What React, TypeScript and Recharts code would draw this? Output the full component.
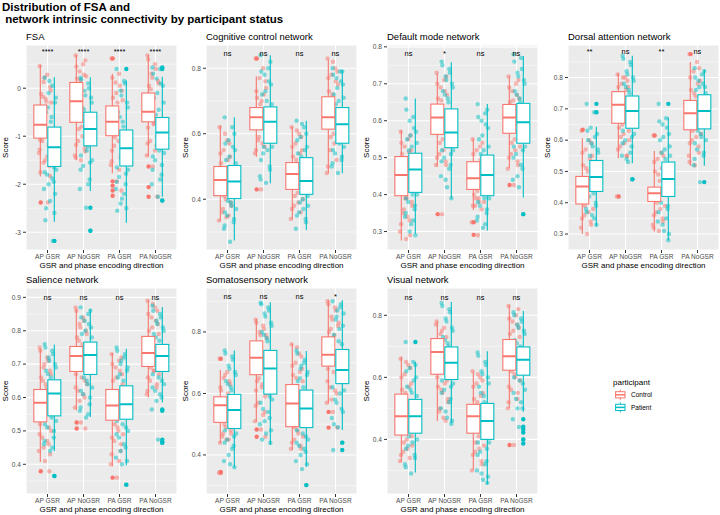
import { ComposedChart, Bar, Scatter, XAxis, YAxis, CartesianGrid } from "recharts";

const CATS = ["AP GSR", "AP NoGSR", "PA GSR", "PA NoGSR"];
const CONTROL_COLOR = "#F8766D";
const PATIENT_COLOR = "#00BFC4";
const FONT = "'Liberation Sans', Arial, Helvetica, sans-serif";

// box stats per category: [lower whisker, Q1, median, Q3, upper whisker]
const FSA_CTL = [[-1.84, -1.04, -0.76, -0.35, 0.49], [-1.5, -0.71, -0.27, 0.12, 0.69], [-1.77, -0.99, -0.7, -0.37, 0.3], [-1.42, -0.7, -0.49, -0.1, 0.69]];
const FSA_PAT = [[-2.78, -1.63, -1.23, -0.81, 0.23], [-2.14, -1.2, -0.85, -0.5, 0.23], [-2.8, -1.62, -1.25, -0.87, 0.16], [-2.26, -1.27, -0.92, -0.61, 0.24]];
const FSA_CTL_OUT = [[-2.38], [], [0.62, -1.94, -2.03, -2.13, -2.24], [-1.63, -2.06, -2.26]];
const FSA_PAT_OUT = [[-3.18], [-2.49, -2.97], [0.4], [0.4, 0.43, -2.34]];
const FSA_CTL_PTS = [
  [0.46, 0.28, 0.13, 0.02, -0.12, -0.22, -0.3, -1.1, -1.2, -1.35, -1.5, -1.62, -1.75, -2.38, 0.22, -0.05, -0.18, -0.28, -1.08, -1.15, -1.28, -1.42, -1.55, -1.83],
  [0.68, 0.5, 0.35, 0.25, 0.2, -0.8, -0.95, -1.1, -1.25, -1.4, -1.5, 0.58, 0.45, 0.28, 0.16, -0.75, -0.85, -1.0, -1.18, -1.32, -1.45],
  [0.62, 0.3, 0.12, -0.05, -0.2, -0.3, -1.05, -1.2, -1.45, -1.6, -1.94, -2.13, 0.22, 0.05, -0.1, -0.25, -1.02, -1.1, -1.3, -1.38, -1.52, -1.7],
  [0.68, 0.5, 0.3, 0.15, 0.05, -0.75, -0.9, -1.1, -1.2, -1.4, -1.63, -2.26, 0.6, 0.4, 0.22, 0.1, -0.02, -0.72, -0.82, -1.0, -1.15, -1.3],
];
const FSA_PAT_PTS = [
  [0.22, 0.05, -0.1, -0.3, -0.5, -0.7, -1.7, -1.8, -1.95, -2.1, -2.35, -2.6, -2.75, -3.18, 0.15, -0.2, -0.4, -0.6, -0.78, -1.65, -1.75, -1.88, -2.0, -2.2, -2.5],
  [0.22, 0.1, -0.05, -0.2, -0.4, -1.3, -1.5, -1.62, -1.9, -2.1, -2.49, -2.97, 0.18, 0.0, -0.15, -0.3, -0.45, -1.22, -1.4, -1.55, -1.7, -2.0],
  [0.4, 0.15, -0.05, -0.3, -0.5, -0.7, -1.7, -1.85, -2.0, -2.1, -2.3, -2.5, -2.55, 0.1, -0.15, -0.4, -0.6, -0.8, -1.65, -1.78, -1.95, -2.2, -2.4],
  [0.43, 0.4, 0.2, 0.05, -0.2, -0.45, -1.35, -1.5, -1.8, -2.0, -2.26, -2.34, 0.3, 0.1, -0.1, -0.3, -0.55, -1.3, -1.42, -1.6, -1.7, -1.9],
];
const FSA_SIG = ["****", "****", "****", "****"];

const COG_CTL = [[0.334, 0.411, 0.459, 0.5, 0.625], [0.53, 0.612, 0.65, 0.68, 0.775], [0.339, 0.43, 0.477, 0.512, 0.622], [0.479, 0.614, 0.65, 0.713, 0.827]];
const COG_PAT = [[0.274, 0.402, 0.454, 0.503, 0.65], [0.449, 0.571, 0.637, 0.682, 0.84], [0.306, 0.415, 0.456, 0.527, 0.64], [0.479, 0.571, 0.629, 0.68, 0.795]];
const COG_CTL_OUT = [[], [0.83, 0.43], [], []];
const COG_PAT_OUT = [[], [], [], []];
const COG_CTL_PTS = [
  [0.62, 0.58, 0.55, 0.53, 0.51, 0.4, 0.38, 0.36, 0.35, 0.335, 0.6, 0.57, 0.54, 0.52, 0.41, 0.39, 0.37, 0.345],
  [0.83, 0.8, 0.77, 0.74, 0.71, 0.7, 0.6, 0.58, 0.56, 0.54, 0.43, 0.76, 0.73, 0.72, 0.69, 0.6, 0.59, 0.57, 0.55],
  [0.62, 0.6, 0.57, 0.55, 0.53, 0.42, 0.4, 0.38, 0.36, 0.34, 0.61, 0.59, 0.56, 0.54, 0.52, 0.42, 0.41, 0.39, 0.37],
  [0.83, 0.8, 0.78, 0.75, 0.73, 0.6, 0.58, 0.55, 0.52, 0.48, 0.82, 0.79, 0.77, 0.76, 0.72, 0.61, 0.59, 0.57, 0.5],
];
const COG_PAT_PTS = [
  [0.65, 0.62, 0.58, 0.55, 0.52, 0.39, 0.37, 0.35, 0.33, 0.31, 0.27, 0.6, 0.57, 0.56, 0.53, 0.51, 0.395, 0.38, 0.36, 0.34, 0.32],
  [0.84, 0.8, 0.78, 0.75, 0.72, 0.7, 0.56, 0.54, 0.5, 0.47, 0.45, 0.82, 0.79, 0.76, 0.73, 0.69, 0.56, 0.55, 0.52, 0.49, 0.46],
  [0.64, 0.62, 0.59, 0.56, 0.54, 0.4, 0.38, 0.36, 0.34, 0.31, 0.63, 0.6, 0.58, 0.55, 0.53, 0.41, 0.39, 0.37, 0.35, 0.33],
  [0.8, 0.79, 0.77, 0.75, 0.72, 0.7, 0.56, 0.54, 0.52, 0.5, 0.48, 0.79, 0.78, 0.76, 0.74, 0.71, 0.69, 0.57, 0.55, 0.53, 0.51],
];
const COG_SIG = ["ns", "ns", "ns", "ns"];

const DMN_CTL = [[0.276, 0.397, 0.453, 0.503, 0.575], [0.476, 0.563, 0.609, 0.645, 0.728], [0.358, 0.414, 0.444, 0.489, 0.552], [0.471, 0.566, 0.609, 0.644, 0.72]];
const DMN_PAT = [[0.294, 0.406, 0.468, 0.512, 0.66], [0.39, 0.527, 0.568, 0.632, 0.758], [0.303, 0.397, 0.453, 0.507, 0.645], [0.392, 0.539, 0.596, 0.647, 0.775]];
const DMN_CTL_OUT = [[], [0.347], [0.325, 0.291], [0.426]];
const DMN_PAT_OUT = [[], [], [], [0.347]];
const DMN_CTL_PTS = [
  [0.57, 0.55, 0.53, 0.52, 0.51, 0.39, 0.37, 0.35, 0.33, 0.3, 0.28, 0.56, 0.54, 0.515, 0.39, 0.38, 0.36, 0.34, 0.32, 0.29],
  [0.73, 0.71, 0.69, 0.67, 0.66, 0.55, 0.53, 0.51, 0.49, 0.48, 0.347, 0.72, 0.7, 0.68, 0.655, 0.56, 0.54, 0.52, 0.5, 0.48],
  [0.55, 0.53, 0.52, 0.5, 0.4, 0.39, 0.38, 0.37, 0.36, 0.325, 0.29, 0.54, 0.51, 0.495, 0.41, 0.405, 0.39, 0.38, 0.37],
  [0.72, 0.7, 0.68, 0.66, 0.65, 0.55, 0.53, 0.51, 0.49, 0.47, 0.426, 0.71, 0.69, 0.67, 0.655, 0.56, 0.54, 0.52, 0.5, 0.48],
];
const DMN_PAT_PTS = [
  [0.66, 0.61, 0.6, 0.57, 0.55, 0.53, 0.4, 0.38, 0.36, 0.34, 0.32, 0.29, 0.63, 0.58, 0.56, 0.54, 0.52, 0.4, 0.39, 0.37, 0.35, 0.33, 0.3],
  [0.76, 0.74, 0.72, 0.7, 0.68, 0.66, 0.52, 0.5, 0.48, 0.45, 0.42, 0.39, 0.75, 0.73, 0.71, 0.69, 0.67, 0.65, 0.52, 0.51, 0.49, 0.47, 0.44],
  [0.645, 0.62, 0.6, 0.58, 0.55, 0.52, 0.39, 0.37, 0.35, 0.33, 0.31, 0.63, 0.61, 0.59, 0.56, 0.53, 0.51, 0.39, 0.38, 0.36, 0.34, 0.32],
  [0.78, 0.77, 0.73, 0.71, 0.68, 0.66, 0.53, 0.51, 0.47, 0.44, 0.42, 0.347, 0.76, 0.74, 0.72, 0.7, 0.67, 0.65, 0.53, 0.52, 0.5, 0.48, 0.45],
];
const DMN_SIG = ["ns", "*", "ns", "ns"];

const DAN_CTL = [[0.3, 0.396, 0.452, 0.484, 0.606], [0.542, 0.654, 0.713, 0.755, 0.814], [0.308, 0.404, 0.43, 0.45, 0.565], [0.518, 0.633, 0.686, 0.727, 0.85]];
const DAN_PAT = [[0.324, 0.436, 0.482, 0.535, 0.643], [0.526, 0.638, 0.693, 0.741, 0.87], [0.281, 0.42, 0.476, 0.53, 0.673], [0.518, 0.636, 0.693, 0.745, 0.826]];
const DAN_CTL_OUT = [[0.633], [0.42], [0.615], [0.875]];
const DAN_PAT_OUT = [[0.716, 0.689], [0.475], [0.716], [0.466]];
const DAN_CTL_PTS = [
  [0.63, 0.6, 0.57, 0.55, 0.52, 0.5, 0.38, 0.36, 0.34, 0.32, 0.3, 0.59, 0.56, 0.54, 0.51, 0.49, 0.39, 0.37, 0.35, 0.33],
  [0.81, 0.8, 0.78, 0.77, 0.64, 0.62, 0.6, 0.58, 0.55, 0.42, 0.8, 0.79, 0.77, 0.76, 0.65, 0.63, 0.61, 0.59, 0.57, 0.55],
  [0.615, 0.56, 0.54, 0.52, 0.5, 0.47, 0.39, 0.37, 0.35, 0.33, 0.31, 0.55, 0.53, 0.51, 0.49, 0.46, 0.4, 0.38, 0.36, 0.34, 0.32],
  [0.875, 0.85, 0.82, 0.79, 0.76, 0.74, 0.62, 0.6, 0.58, 0.55, 0.52, 0.83, 0.8, 0.78, 0.75, 0.73, 0.63, 0.61, 0.59, 0.56, 0.53],
];
const DAN_PAT_PTS = [
  [0.716, 0.689, 0.64, 0.62, 0.6, 0.58, 0.56, 0.42, 0.4, 0.38, 0.36, 0.33, 0.63, 0.61, 0.59, 0.57, 0.55, 0.43, 0.41, 0.39, 0.37, 0.35],
  [0.87, 0.85, 0.82, 0.8, 0.78, 0.76, 0.62, 0.6, 0.58, 0.55, 0.53, 0.475, 0.86, 0.84, 0.81, 0.79, 0.77, 0.75, 0.63, 0.61, 0.59, 0.56, 0.54],
  [0.716, 0.67, 0.65, 0.62, 0.6, 0.57, 0.55, 0.4, 0.38, 0.34, 0.31, 0.28, 0.66, 0.64, 0.61, 0.58, 0.56, 0.54, 0.41, 0.39, 0.37, 0.35, 0.33, 0.3],
  [0.83, 0.81, 0.79, 0.77, 0.76, 0.62, 0.6, 0.57, 0.55, 0.52, 0.466, 0.82, 0.8, 0.78, 0.77, 0.75, 0.63, 0.61, 0.59, 0.56, 0.54],
];
const DAN_SIG = ["**", "ns", "**", "ns"];

const SAL_CTL = [[0.407, 0.527, 0.584, 0.624, 0.746], [0.562, 0.678, 0.724, 0.753, 0.866], [0.394, 0.532, 0.576, 0.624, 0.733], [0.6, 0.693, 0.733, 0.783, 0.891]];
const SAL_PAT = [[0.44, 0.545, 0.612, 0.653, 0.759], [0.542, 0.669, 0.727, 0.766, 0.866], [0.397, 0.535, 0.58, 0.635, 0.746], [0.585, 0.678, 0.724, 0.759, 0.871]];
const SAL_CTL_OUT = [[0.379], [0.525, 0.507], [0.36], []];
const SAL_PAT_OUT = [[0.365], [], [0.339], [0.564, 0.56, 0.474, 0.467, 0.464]];
const SAL_CTL_PTS = [
  [0.75, 0.72, 0.69, 0.68, 0.66, 0.64, 0.5, 0.48, 0.46, 0.44, 0.41, 0.379, 0.74, 0.71, 0.7, 0.67, 0.65, 0.63, 0.52, 0.51, 0.49, 0.47, 0.45, 0.43],
  [0.87, 0.84, 0.82, 0.8, 0.78, 0.66, 0.64, 0.62, 0.6, 0.57, 0.525, 0.507, 0.86, 0.83, 0.81, 0.79, 0.77, 0.76, 0.67, 0.65, 0.63, 0.61, 0.59],
  [0.73, 0.71, 0.69, 0.67, 0.65, 0.51, 0.49, 0.47, 0.44, 0.4, 0.36, 0.72, 0.7, 0.68, 0.66, 0.64, 0.52, 0.5, 0.48, 0.46, 0.43, 0.41],
  [0.89, 0.87, 0.84, 0.82, 0.8, 0.68, 0.67, 0.65, 0.63, 0.61, 0.88, 0.86, 0.85, 0.83, 0.81, 0.79, 0.69, 0.68, 0.66, 0.64, 0.62],
];
const SAL_PAT_PTS = [
  [0.76, 0.74, 0.72, 0.7, 0.68, 0.66, 0.53, 0.51, 0.48, 0.46, 0.44, 0.365, 0.75, 0.73, 0.71, 0.69, 0.67, 0.54, 0.52, 0.5, 0.47, 0.45],
  [0.87, 0.85, 0.83, 0.81, 0.79, 0.65, 0.63, 0.61, 0.58, 0.56, 0.54, 0.86, 0.84, 0.82, 0.8, 0.78, 0.66, 0.64, 0.62, 0.6, 0.57, 0.55],
  [0.75, 0.72, 0.7, 0.68, 0.66, 0.52, 0.5, 0.48, 0.45, 0.42, 0.4, 0.339, 0.74, 0.73, 0.71, 0.69, 0.67, 0.65, 0.53, 0.51, 0.49, 0.46, 0.44, 0.41],
  [0.875, 0.85, 0.83, 0.81, 0.79, 0.66, 0.64, 0.62, 0.6, 0.564, 0.474, 0.467, 0.86, 0.84, 0.82, 0.8, 0.78, 0.77, 0.67, 0.65, 0.63, 0.61, 0.59],
];
const SAL_SIG = ["ns", "ns", "ns", "ns"];

const SMN_CTL = [[0.44, 0.506, 0.562, 0.589, 0.676], [0.508, 0.661, 0.716, 0.771, 0.843], [0.416, 0.492, 0.567, 0.629, 0.762], [0.567, 0.689, 0.726, 0.784, 0.905]];
const SMN_PAT = [[0.36, 0.486, 0.546, 0.597, 0.74], [0.432, 0.598, 0.681, 0.74, 0.897], [0.362, 0.489, 0.551, 0.611, 0.738], [0.481, 0.632, 0.676, 0.743, 0.903]];
const SMN_CTL_OUT = [[0.713, 0.342, 0.345], [0.483, 0.459], [], [0.54, 0.489]];
const SMN_PAT_OUT = [[], [], [0.302], [0.44, 0.416]];
const SMN_CTL_PTS = [
  [0.713, 0.67, 0.65, 0.63, 0.61, 0.49, 0.47, 0.46, 0.45, 0.342, 0.66, 0.64, 0.62, 0.6, 0.5, 0.48, 0.47, 0.45, 0.44],
  [0.84, 0.82, 0.8, 0.79, 0.64, 0.62, 0.6, 0.57, 0.54, 0.51, 0.483, 0.459, 0.83, 0.81, 0.79, 0.78, 0.65, 0.63, 0.61, 0.59, 0.56, 0.53],
  [0.76, 0.73, 0.7, 0.68, 0.66, 0.48, 0.46, 0.45, 0.43, 0.42, 0.75, 0.72, 0.69, 0.67, 0.65, 0.64, 0.49, 0.47, 0.44, 0.42],
  [0.9, 0.88, 0.85, 0.82, 0.8, 0.67, 0.65, 0.62, 0.6, 0.57, 0.54, 0.489, 0.89, 0.87, 0.84, 0.83, 0.81, 0.79, 0.68, 0.66, 0.64, 0.61, 0.58],
];
const SMN_PAT_PTS = [
  [0.74, 0.72, 0.69, 0.67, 0.64, 0.62, 0.47, 0.45, 0.43, 0.38, 0.37, 0.36, 0.73, 0.71, 0.68, 0.66, 0.63, 0.61, 0.48, 0.46, 0.44, 0.42, 0.4],
  [0.895, 0.88, 0.86, 0.83, 0.8, 0.78, 0.58, 0.55, 0.52, 0.5, 0.47, 0.44, 0.89, 0.87, 0.85, 0.82, 0.79, 0.77, 0.75, 0.59, 0.57, 0.54, 0.51, 0.48, 0.45],
  [0.74, 0.7, 0.68, 0.66, 0.64, 0.47, 0.45, 0.43, 0.41, 0.38, 0.354, 0.302, 0.73, 0.71, 0.69, 0.67, 0.65, 0.62, 0.48, 0.46, 0.44, 0.42, 0.4, 0.37],
  [0.9, 0.88, 0.85, 0.82, 0.79, 0.77, 0.61, 0.58, 0.55, 0.52, 0.49, 0.44, 0.416, 0.89, 0.87, 0.86, 0.84, 0.81, 0.78, 0.76, 0.62, 0.6, 0.57, 0.54, 0.5],
];
const SMN_SIG = ["ns", "ns", "ns", "*"];

const VIS_CTL = [[0.328, 0.414, 0.475, 0.546, 0.666], [0.459, 0.61, 0.682, 0.725, 0.78], [0.302, 0.42, 0.475, 0.513, 0.618], [0.5, 0.623, 0.668, 0.722, 0.832]];
const VIS_PAT = [[0.293, 0.42, 0.475, 0.529, 0.65], [0.452, 0.593, 0.647, 0.698, 0.843], [0.255, 0.4, 0.459, 0.516, 0.684], [0.489, 0.607, 0.657, 0.698, 0.814]];
const VIS_CTL_OUT = [[], [], [], [0.382]];
const VIS_PAT_OUT = [[0.714], [], [], [0.465, 0.441, 0.432, 0.422, 0.4, 0.387]];
const VIS_CTL_PTS = [
  [0.66, 0.64, 0.61, 0.58, 0.56, 0.4, 0.38, 0.36, 0.34, 0.33, 0.65, 0.63, 0.6, 0.57, 0.55, 0.41, 0.39, 0.37, 0.35],
  [0.78, 0.76, 0.74, 0.59, 0.57, 0.55, 0.52, 0.49, 0.46, 0.77, 0.75, 0.73, 0.6, 0.58, 0.56, 0.53, 0.5, 0.47],
  [0.62, 0.6, 0.58, 0.55, 0.53, 0.41, 0.38, 0.36, 0.33, 0.3, 0.61, 0.59, 0.57, 0.54, 0.52, 0.41, 0.39, 0.37, 0.35, 0.32],
  [0.83, 0.8, 0.78, 0.76, 0.74, 0.61, 0.59, 0.56, 0.53, 0.5, 0.382, 0.82, 0.79, 0.77, 0.75, 0.73, 0.62, 0.6, 0.57, 0.55, 0.52],
];
const VIS_PAT_PTS = [
  [0.714, 0.65, 0.63, 0.6, 0.57, 0.55, 0.4, 0.38, 0.35, 0.32, 0.29, 0.64, 0.62, 0.59, 0.56, 0.54, 0.41, 0.39, 0.37, 0.34, 0.31],
  [0.84, 0.82, 0.79, 0.76, 0.73, 0.71, 0.58, 0.56, 0.53, 0.5, 0.47, 0.45, 0.83, 0.81, 0.78, 0.75, 0.72, 0.7, 0.59, 0.57, 0.55, 0.52, 0.49, 0.46],
  [0.68, 0.65, 0.62, 0.6, 0.57, 0.54, 0.39, 0.36, 0.33, 0.3, 0.27, 0.26, 0.67, 0.64, 0.61, 0.58, 0.55, 0.52, 0.39, 0.37, 0.35, 0.32, 0.29, 0.28],
  [0.81, 0.79, 0.77, 0.75, 0.72, 0.59, 0.56, 0.53, 0.5, 0.465, 0.44, 0.4, 0.8, 0.78, 0.76, 0.74, 0.71, 0.7, 0.6, 0.58, 0.55, 0.52, 0.5],
];
const VIS_SIG = ["ns", "ns", "ns", "ns"];

// horizontal jitter pattern (category units), like geom_jitter
const JIT = [-0.15, 0.06, -0.04, 0.14, -0.11, 0.02, 0.17, -0.08, 0.1, -0.17, 0.0, 0.12, -0.13, 0.08, -0.02, 0.16, -0.06, 0.04, -0.14, 0.11];

const PANELS = [
  { title: "FSA", ctl: FSA_CTL, pat: FSA_PAT, ctlOut: FSA_CTL_OUT, patOut: FSA_PAT_OUT, ctlPts: FSA_CTL_PTS, patPts: FSA_PAT_PTS, sig: FSA_SIG, sigY: 0.76,
    domain: [-3.37, 0.9], ticks: [-3, -2, -1, 0], minor: [-2.5, -1.5, -0.5, 0.5], dec: 0, left: 26, top: 45, h: 205 },
  { title: "Cognitive control network", ctl: COG_CTL, pat: COG_PAT, ctlOut: COG_CTL_OUT, patOut: COG_PAT_OUT, ctlPts: COG_CTL_PTS, patPts: COG_PAT_PTS, sig: COG_SIG, sigY: 0.846,
    domain: [0.245, 0.871], ticks: [0.4, 0.6, 0.8], minor: [0.3, 0.5, 0.7], dec: 1, left: 206, top: 45, h: 205 },
  { title: "Default mode network", ctl: DMN_CTL, pat: DMN_PAT, ctlOut: DMN_CTL_OUT, patOut: DMN_PAT_OUT, ctlPts: DMN_CTL_PTS, patPts: DMN_PAT_PTS, sig: DMN_SIG, sigY: 0.782,
    domain: [0.25, 0.805], ticks: [0.3, 0.4, 0.5, 0.6, 0.7, 0.8], minor: [0.35, 0.45, 0.55, 0.65, 0.75], dec: 1, left: 387, top: 45, h: 205 },
  { title: "Dorsal attention network", ctl: DAN_CTL, pat: DAN_PAT, ctlOut: DAN_CTL_OUT, patOut: DAN_PAT_OUT, ctlPts: DAN_CTL_PTS, patPts: DAN_PAT_PTS, sig: DAN_SIG, sigY: 0.883,
    domain: [0.249, 0.904], ticks: [0.3, 0.4, 0.5, 0.6, 0.7, 0.8], minor: [0.35, 0.45, 0.55, 0.65, 0.75, 0.85], dec: 1, left: 568, top: 45, h: 205 },
  { title: "Salience network", ctl: SAL_CTL, pat: SAL_PAT, ctlOut: SAL_CTL_OUT, patOut: SAL_PAT_OUT, ctlPts: SAL_CTL_PTS, patPts: SAL_PAT_PTS, sig: SAL_SIG, sigY: 0.9,
    domain: [0.311, 0.928], ticks: [0.4, 0.5, 0.6, 0.7, 0.8, 0.9], minor: [0.35, 0.45, 0.55, 0.65, 0.75, 0.85], dec: 1, left: 26, top: 288, h: 206 },
  { title: "Somatosensory network", ctl: SMN_CTL, pat: SMN_PAT, ctlOut: SMN_CTL_OUT, patOut: SMN_PAT_OUT, ctlPts: SMN_CTL_PTS, patPts: SMN_PAT_PTS, sig: SMN_SIG, sigY: 0.916,
    domain: [0.273, 0.943], ticks: [0.4, 0.6, 0.8], minor: [0.3, 0.5, 0.7, 0.9], dec: 1, left: 206, top: 288, h: 206 },
  { title: "Visual network", ctl: VIS_CTL, pat: VIS_PAT, ctlOut: VIS_CTL_OUT, patOut: VIS_PAT_OUT, ctlPts: VIS_CTL_PTS, patPts: VIS_PAT_PTS, sig: VIS_SIG, sigY: 0.857,
    domain: [0.224, 0.888], ticks: [0.4, 0.6, 0.8], minor: [0.3, 0.5, 0.7], dec: 1, left: 387, top: 288, h: 206 },
];

const PLOT_W = 151;
const YAXIS_W = 26;

// box + whiskers; whisker ends are placed on the same linear scale as the Q1..Q3 bar
const makeBoxShape = (key: string, color: string) => (props: any) => {
  const { x, y, width, height, payload } = props;
  const s = payload[key];
  const top = Math.min(y, y + height);
  const bot = Math.max(y, y + height);
  const px = (v: number) => bot - ((v - s[1]) / (s[3] - s[1])) * (bot - top);
  const cx = x + width / 2;
  return (
    <g>
      <line x1={cx} x2={cx} y1={px(s[4])} y2={top} stroke={color} strokeWidth={1.1} />
      <line x1={cx} x2={cx} y1={bot} y2={px(s[0])} stroke={color} strokeWidth={1.1} />
      <rect x={x} y={top} width={width} height={bot - top} fill="#fff" stroke={color} strokeWidth={1.1} />
      <line x1={x} x2={x + width} y1={px(s[2])} y2={px(s[2])} stroke={color} strokeWidth={2} />
    </g>
  );
};

const dot = (color: string, opacity: number) => (p: any) => (
  <circle cx={p.cx} cy={p.cy} r={2.2} fill={color} fillOpacity={opacity} />
);

const sigText = (p: any) => (
  <text x={p.cx} y={p.cy} textAnchor="middle" dominantBaseline="central" fontSize={7.5} fill="#000" fontFamily={FONT}>
    {p.payload.t}
  </text>
);

const jitter = (lists: number[][], shift: number) =>
  lists.flatMap((arr, i) => arr.map((v, k) => ({ x: i + 1 + shift + JIT[k % JIT.length], y: v })));

const dodge = (lists: number[][], shift: number) =>
  lists.flatMap((arr, i) => arr.map((v) => ({ x: i + 1 + shift, y: v })));

function Panel({ p }: { p: any }) {
  const rows = CATS.map((c, i) => ({
    cat: c,
    cR: [p.ctl[i][1], p.ctl[i][3]],
    pR: [p.pat[i][1], p.pat[i][3]],
    cS: p.ctl[i],
    pS: p.pat[i],
  }));
  const ctlPts = jitter(p.ctlPts, -0.07);
  const patPts = jitter(p.patPts, 0.07);
  const ctlOut = dodge(p.ctlOut, -0.19);
  const patOut = dodge(p.patOut, 0.19);
  const sig = CATS.map((c, i) => ({ x: i + 1, y: p.sigY, t: p.sig[i] }));
  const fmt = (v: number) => (p.dec ? v.toFixed(p.dec) : String(v));

  return (
    <div style={{ position: "absolute", left: p.left - YAXIS_W, top: p.top - 5 }}>
      <ComposedChart
        width={YAXIS_W + PLOT_W}
        height={5 + p.h + 14}
        data={rows}
        margin={{ top: 5, right: 0, bottom: 0, left: 0 }}
        barCategoryGap="12%"
        barGap={1}
      >
        <CartesianGrid fill="#EBEBEB" fillOpacity={1} stroke="#fff" strokeWidth={1.1} />
        <CartesianGrid stroke="#fff" strokeWidth={0.5} vertical={false} horizontalValues={p.minor} />
        <XAxis
          dataKey="cat"
          type="category"
          padding={{ left: 3.5, right: 3.5 }}
          interval={0}
          height={14}
          tickSize={3}
          tickMargin={1}
          axisLine={false}
          tickLine={{ stroke: "#333" }}
          tick={{ fontSize: 6.6, fill: "#4D4D4D", fontFamily: FONT }}
        />
        <XAxis xAxisId="j" type="number" dataKey="x" domain={[0.4, 4.6]} allowDataOverflow hide />
        <YAxis
          type="number"
          domain={p.domain}
          ticks={p.ticks}
          allowDataOverflow
          interval={0}
          width={YAXIS_W}
          tickSize={3}
          tickMargin={2}
          axisLine={false}
          tickLine={{ stroke: "#333" }}
          tick={{ fontSize: 6.6, fill: "#4D4D4D", fontFamily: FONT }}
          tickFormatter={fmt}
        />
        <Scatter xAxisId="j" data={ctlPts} dataKey="y" shape={dot(CONTROL_COLOR, 0.5)} isAnimationActive={false} zIndex={100} />
        <Scatter xAxisId="j" data={patPts} dataKey="y" shape={dot(PATIENT_COLOR, 0.5)} isAnimationActive={false} zIndex={100} />
        <Bar dataKey="cR" shape={makeBoxShape("cS", CONTROL_COLOR)} isAnimationActive={false} />
        <Bar dataKey="pR" shape={makeBoxShape("pS", PATIENT_COLOR)} isAnimationActive={false} />
        <Scatter xAxisId="j" data={ctlOut} dataKey="y" shape={dot(CONTROL_COLOR, 1)} isAnimationActive={false} />
        <Scatter xAxisId="j" data={patOut} dataKey="y" shape={dot(PATIENT_COLOR, 1)} isAnimationActive={false} />
        <Scatter xAxisId="j" data={sig} dataKey="y" shape={sigText} isAnimationActive={false} />
      </ComposedChart>
    </div>
  );
}

const KeyIcon = ({ x, y, color }: { x: number; y: number; color: string }) => (
  <g>
    <line x1={x + 6.3} x2={x + 6.3} y1={y + 1.3} y2={y + 3.2} stroke={color} strokeWidth={1} />
    <line x1={x + 6.3} x2={x + 6.3} y1={y + 9.4} y2={y + 11.3} stroke={color} strokeWidth={1} />
    <rect x={x + 1.6} y={y + 3.2} width={9.4} height={6.2} fill="#fff" stroke={color} strokeWidth={1} />
    <line x1={x + 1.6} x2={x + 11} y1={y + 6.3} y2={y + 6.3} stroke={color} strokeWidth={1.5} />
  </g>
);

export default function App() {
  return (
    <div style={{ position: "absolute", left: 0, top: 0, width: 720, height: 515, background: "#fff", overflow: "hidden", fontFamily: FONT }}>
      {PANELS.map((p) => (
        <Panel key={p.title} p={p} />
      ))}
      <svg width={720} height={515} style={{ position: "absolute", left: 0, top: 0, pointerEvents: "none" }} fontFamily={FONT}>
        <text x={2} y={6.5} fontSize={11.5} fontWeight="bold" dominantBaseline="central">Distribution of FSA and</text>
        <text x={2} y={18.5} fontSize={11.5} fontWeight="bold" dominantBaseline="central" style={{ whiteSpace: "pre" }}>{" network intrinsic connectivity by participant status"}</text>
        {PANELS.map((p) => (
          <g key={p.title}>
            <text x={p.left} y={p.top - 8.5} fontSize={9.5} dominantBaseline="central">{p.title}</text>
            <text x={p.left + PLOT_W / 2} y={p.top + p.h + 15.5} fontSize={8} textAnchor="middle" dominantBaseline="central">
              GSR and phase encoding direction
            </text>
            <text
              x={p.left - 21}
              y={p.top + p.h / 2}
              fontSize={8}
              textAnchor="middle"
              dominantBaseline="central"
              transform={`rotate(-90 ${p.left - 21} ${p.top + p.h / 2})`}
            >
              Score
            </text>
          </g>
        ))}
        <text x={613} y={382} fontSize={8} dominantBaseline="central">participant</text>
        <KeyIcon x={614} y={388.5} color={CONTROL_COLOR} />
        <text x={631} y={394.8} fontSize={6.5} dominantBaseline="central">Control</text>
        <KeyIcon x={614} y={401.1} color={PATIENT_COLOR} />
        <text x={631} y={407.4} fontSize={6.5} dominantBaseline="central">Patient</text>
      </svg>
    </div>
  );
}
